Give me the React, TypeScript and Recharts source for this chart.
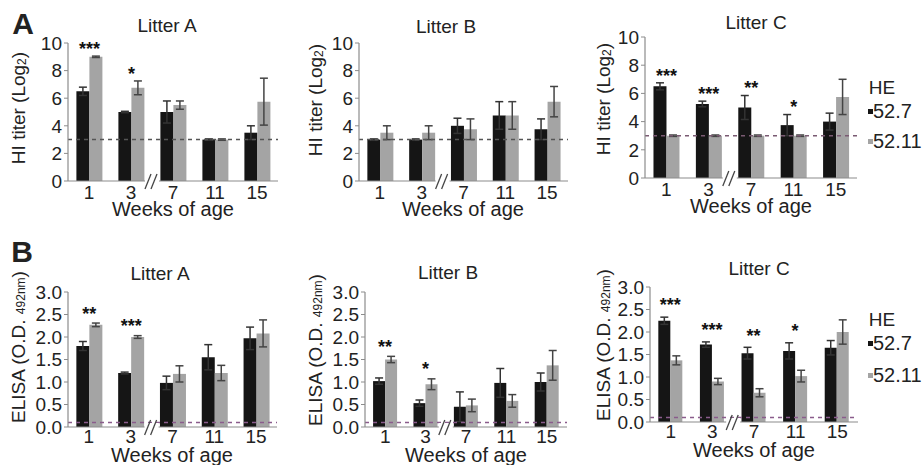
import React from 'react';
import { ComposedChart, Bar, XAxis, YAxis, ReferenceLine, ErrorBar, LabelList } from 'recharts';

// ---------- data ----------
const weeks = ['1', '3', '7', '11', '15'];

// HI titer (Log2)
const hiA_527 = [6.5, 5.0, 5.0, 3.0, 3.5];
const hiA_527Err = [0.3, 0.05, 0.8, 0.05, 0.5];
const hiA_5211 = [9.0, 6.75, 5.5, 3.0, 5.75];
const hiA_5211Err = [0.05, 0.5, 0.3, 0.05, 1.7];
const hiA_sig = ['***', '*', '', '', ''];

const hiB_527 = [3.0, 3.0, 4.0, 4.75, 3.75];
const hiB_527Err = [0.05, 0.05, 0.55, 1.0, 0.75];
const hiB_5211 = [3.5, 3.5, 3.75, 4.75, 5.75];
const hiB_5211Err = [0.5, 0.5, 0.75, 1.0, 1.1];
const hiB_sig = ['', '', '', '', ''];

const hiC_527 = [6.5, 5.25, 5.0, 3.75, 4.0];
const hiC_527Err = [0.25, 0.2, 0.85, 0.75, 0.6];
const hiC_5211 = [3.0, 3.0, 3.0, 3.0, 5.75];
const hiC_5211Err = [0.05, 0.05, 0.05, 0.05, 1.25];
const hiC_sig = ['***', '***', '**', '*', ''];

// ELISA (O.D. 492nm)
const elA_527 = [1.8, 1.2, 0.98, 1.55, 1.97];
const elA_527Err = [0.1, 0.02, 0.15, 0.28, 0.25];
const elA_5211 = [2.27, 2.0, 1.18, 1.2, 2.08];
const elA_5211Err = [0.04, 0.03, 0.18, 0.17, 0.3];
const elA_sig = ['**', '***', '', '', ''];

const elB_527 = [1.02, 0.53, 0.45, 0.98, 1.0];
const elB_527Err = [0.07, 0.07, 0.33, 0.32, 0.2];
const elB_5211 = [1.5, 0.95, 0.48, 0.58, 1.37];
const elB_5211Err = [0.07, 0.12, 0.14, 0.14, 0.33];
const elB_sig = ['**', '*', '', '', ''];

const elC_527 = [2.25, 1.72, 1.53, 1.58, 1.65];
const elC_527Err = [0.08, 0.06, 0.13, 0.18, 0.16];
const elC_5211 = [1.37, 0.9, 0.65, 1.02, 2.0];
const elC_5211Err = [0.1, 0.07, 0.09, 0.13, 0.27];
const elC_sig = ['***', '***', '**', '*', ''];

const hiTicks = [0, 2, 4, 6, 8, 10];
const elTicks = [0, 0.5, 1.0, 1.5, 2.0, 2.5, 3.0];
const hiCutoff = 3;
const elCutoff = 0.1;

// ---------- style ----------
const FONT = '"Liberation Sans", Arial, Helvetica, sans-serif';
const BLACK = '#151515';
const GRAY = '#a4a4a4';
const AXIS = '#8c8c8c';
const TEXT = '#222';

function Panel(p: any) {
  const plotW = p.right - p.axisX;
  const plotH = p.bottom - p.top;
  const mTop = 30, yw = 60, mRight = 10, xh = 45;
  const width = yw + plotW + mRight;
  const height = mTop + plotH + xh;
  const data = weeks.map((w, i) => ({ week: w, a: p.a[i], aErr: p.aErr[i], b: p.b[i], bErr: p.bErr[i] }));
  const band = plotW / weeks.length;

  const renderTick = (props: any) => {
    const { x, y, payload, index } = props;
    const bx = x + band / 2;
    return (
      <g>
        <text x={x} y={y} dy={p.tickDy} textAnchor="middle" fontSize={19} fill={TEXT} fontFamily={FONT}>
          {payload.value}
        </text>
        {index === 1 && (
          <g>
            <rect x={bx - 7} y={y - 4} width={14} height={8} fill="#fff" />
            <line x1={bx - 7} y1={y + 8} x2={bx - 1} y2={y - 7} stroke="#444" strokeWidth={1.3} />
            <line x1={bx - 1} y1={y + 8} x2={bx + 5} y2={y - 7} stroke="#444" strokeWidth={1.3} />
          </g>
        )}
      </g>
    );
  };

  const renderStar = (props: any) => {
    const vb = props.viewBox || props;
    const x = vb.x ?? props.x;
    const y = vb.y ?? props.y;
    const h = vb.height ?? props.height;
    const index = props.index;
    const sig = p.sig[index];
    if (!sig) return null;
    const val = p.b[index];
    const ppu = h / val;
    const base = y + h;
    const topVal = Math.max(p.a[index] + p.aErr[index], p.b[index] + p.bErr[index]) + p.pad;
    const sy = base - topVal * ppu;
    return (
      <text x={x} y={sy + 10} textAnchor="middle" fontSize={18} fontWeight="bold" fill="#111" fontFamily={FONT}>
        {sig}
      </text>
    );
  };

  return (
    <div style={{ position: 'absolute', left: p.axisX - yw, top: p.top - mTop }}>
      <ComposedChart
        width={width}
        height={height}
        data={data}
        margin={{ top: mTop, right: mRight, left: 0, bottom: 0 }}
        barCategoryGap="20%"
        barGap={0}
      >
        <XAxis
          dataKey="week"
          height={xh}
          tickLine={false}
          tickSize={0}
          tickMargin={0}
          axisLine={{ stroke: AXIS, strokeWidth: 1.2 }}
          tick={renderTick}
          interval={0}
        />
        <YAxis
          width={yw}
          domain={[0, p.yMax]}
          ticks={p.ticks}
          tickFormatter={p.fmt}
          axisLine={{ stroke: AXIS, strokeWidth: 1.2 }}
          tickLine={{ stroke: AXIS }}
          tickSize={4}
          tickMargin={2}
          tick={{ fontSize: 19, fill: TEXT, fontFamily: FONT }}
          interval={0}
        />
        <Bar dataKey="a" fill={BLACK} isAnimationActive={false}>
          <ErrorBar dataKey="aErr" width={4} stroke="#333" strokeWidth={1.5} />
        </Bar>
        <Bar dataKey="b" fill={GRAY} isAnimationActive={false}>
          <ErrorBar dataKey="bErr" width={4} stroke="#444" strokeWidth={1.5} />
          <LabelList dataKey="b" content={renderStar} />
        </Bar>
        <ReferenceLine y={p.refY} stroke={p.refColor} strokeDasharray="4 4" strokeWidth={1.5} />
      </ComposedChart>
    </div>
  );
}

function Txt({ cx, cy, size, bold, children, anchor = 'middle' }: any) {
  const style: any = {
    position: 'absolute',
    top: cy - size * 0.4885,
    fontSize: size,
    lineHeight: size + 'px',
    fontFamily: FONT,
    color: TEXT,
    whiteSpace: 'nowrap',
    fontWeight: bold ? 'bold' : 'normal',
  };
  style.left = cx;
  if (anchor === 'middle') style.transform = 'translateX(-50%)';
  return <div style={style}>{children}</div>;
}

function VLabel({ cx, cy, children }: any) {
  return (
    <div
      style={{
        position: 'absolute',
        left: cx,
        top: cy,
        transform: 'translate(-50%, -50%) rotate(-90deg)',
        fontSize: 19,
        lineHeight: '19px',
        fontFamily: FONT,
        color: TEXT,
        whiteSpace: 'nowrap',
      }}
    >
      {children}
    </div>
  );
}

const HiLabel = () => (
  <span>
    HI titer (Log<span style={{ fontSize: 12, verticalAlign: '-1px' }}>2</span>)
  </span>
);
const ElLabel = () => (
  <span>
    ELISA (O.D. <span style={{ fontSize: 12 }}>492nm</span>)
  </span>
);

function LegendBlock({ x, hy, y1, y2 }: any) {
  return (
    <>
      <Txt cx={x + 14} cy={hy} size={19}>HE</Txt>
      <div style={{ position: 'absolute', left: x, top: y1 - 2, width: 5, height: 5, background: BLACK }} />
      <Txt cx={x + 5} cy={y1} size={20} anchor="start">52.7</Txt>
      <div style={{ position: 'absolute', left: x, top: y2 - 2, width: 5, height: 5, background: GRAY }} />
      <Txt cx={x + 5} cy={y2} size={20} anchor="start">52.11</Txt>
    </>
  );
}

const fmtHi = (v: number) => String(v);
const fmtEl = (v: number) => v.toFixed(1);

export default function App() {
  return (
    <div style={{ position: 'absolute', left: 0, top: 0, width: 922, height: 465, background: '#fff', overflow: 'hidden' }}>
      <Txt cx={23} cy={24} size={30} bold>A</Txt>
      <Txt cx={22} cy={252} size={30} bold>B</Txt>

      <Txt cx={167} cy={25} size={19}>Litter A</Txt>
      <Txt cx={446} cy={26} size={19}>Litter B</Txt>
      <Txt cx={756} cy={22} size={19}>Litter C</Txt>
      <Txt cx={160} cy={273} size={19}>Litter A</Txt>
      <Txt cx={448} cy={272} size={19}>Litter B</Txt>
      <Txt cx={759} cy={268} size={19}>Litter C</Txt>

      <VLabel cx={20} cy={108}><HiLabel /></VLabel>
      <VLabel cx={317} cy={100}><HiLabel /></VLabel>
      <VLabel cx={605} cy={99}><HiLabel /></VLabel>
      <VLabel cx={20} cy={347}><ElLabel /></VLabel>
      <VLabel cx={317} cy={350}><ElLabel /></VLabel>
      <VLabel cx={605} cy={345}><ElLabel /></VLabel>

      <Panel axisX={68} top={43} bottom={181} right={278} yMax={10} ticks={hiTicks} fmt={fmtHi} refY={hiCutoff} refColor="#555" tickDy={18} pad={0.8}
        a={hiA_527} aErr={hiA_527Err} b={hiA_5211} bErr={hiA_5211Err} sig={hiA_sig} />
      <Panel axisX={359} top={43} bottom={181} right={568} yMax={10} ticks={hiTicks} fmt={fmtHi} refY={hiCutoff} refColor="#555" tickDy={18} pad={0.8}
        a={hiB_527} aErr={hiB_527Err} b={hiB_5211} bErr={hiB_5211Err} sig={hiB_sig} />
      <Panel axisX={645} top={37} bottom={178} right={857} yMax={10} ticks={hiTicks} fmt={fmtHi} refY={hiCutoff} refColor="#7a5a72" tickDy={18} pad={0.8}
        a={hiC_527} aErr={hiC_527Err} b={hiC_5211} bErr={hiC_5211Err} sig={hiC_sig} />
      <Panel axisX={68} top={292} bottom={427} right={277} yMax={3} ticks={elTicks} fmt={fmtEl} refY={elCutoff} refColor="#8a5c8c" tickDy={16} pad={0.3}
        a={elA_527} aErr={elA_527Err} b={elA_5211} bErr={elA_5211Err} sig={elA_sig} />
      <Panel axisX={365} top={292} bottom={427} right={567} yMax={3} ticks={elTicks} fmt={fmtEl} refY={elCutoff} refColor="#8a5c8c" tickDy={16} pad={0.3}
        a={elB_527} aErr={elB_527Err} b={elB_5211} bErr={elB_5211Err} sig={elB_sig} />
      <Panel axisX={650} top={287} bottom={422} right={858} yMax={3} ticks={elTicks} fmt={fmtEl} refY={elCutoff} refColor="#8a5c8c" tickDy={16} pad={0.35}
        a={elC_527} aErr={elC_527Err} b={elC_5211} bErr={elC_5211Err} sig={elC_sig} />

      <Txt cx={173} cy={209} size={20}>Weeks of age</Txt>
      <Txt cx={463} cy={209} size={20}>Weeks of age</Txt>
      <Txt cx={751} cy={206} size={20}>Weeks of age</Txt>
      <Txt cx={172} cy={455} size={20}>Weeks of age</Txt>
      <Txt cx={466} cy={455} size={20}>Weeks of age</Txt>
      <Txt cx={754} cy={450} size={20}>Weeks of age</Txt>

      <LegendBlock x={868} hy={87} y1={111} y2={141} />
      <LegendBlock x={868} hy={319} y1={343} y2={375} />
    </div>
  );
}
